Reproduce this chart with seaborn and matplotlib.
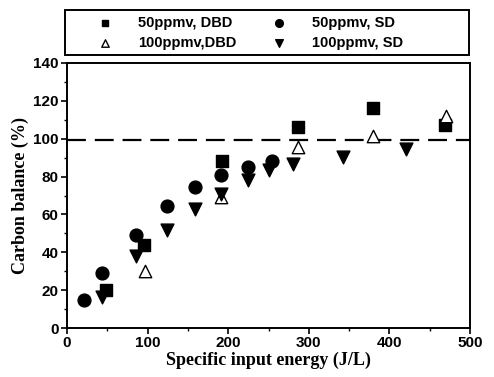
import numpy as np
import pandas as pd
import matplotlib
matplotlib.use("Agg")
import matplotlib.pyplot as plt
import seaborn as sns
from matplotlib.ticker import MultipleLocator
from matplotlib.patches import Rectangle

# --- data ---
sie_50_dbd = [48, 96, 192, 287, 380, 469]
cb_50_dbd = [20, 44, 88, 106, 116, 107]

sie_50_sd = [21, 44, 86, 124, 159, 191, 224, 254]
cb_50_sd = [15, 29, 49, 64.5, 74.5, 81, 85, 88]

sie_100_dbd = [97, 191, 286, 380, 470]
cb_100_dbd = [30, 69, 95.5, 101.5, 112]

sie_100_sd = [44, 86, 124, 159, 191, 224, 251, 281, 342, 421]
cb_100_sd = [16.5, 38, 52, 63, 71, 78, 83.5, 86.5, 90.5, 94.5]

labels = ["50ppmv, DBD", "50ppmv, SD", "100ppmv,DBD", "100ppmv, SD"]
ref_level = 99.5

sns.set_theme(style="ticks")
plt.rcParams['font.family'] = ['Liberation Sans', 'DejaVu Sans']
plt.rcParams.update({"text.color": "black", "axes.labelcolor": "black",
                     "xtick.color": "black", "ytick.color": "black"})

W, H = 494, 377
fig = plt.figure(figsize=(W / 100, H / 100), dpi=100)
ax = fig.add_axes([67 / W, 49 / H, 403 / W, 265 / H])

series = [
    (sie_50_dbd, cb_50_dbd, labels[0], "s", "black", 70),
    (sie_50_sd, cb_50_sd, labels[1], "o", "black", 85),
    (sie_100_dbd, cb_100_dbd, labels[2], "^", "white", 80),
    (sie_100_sd, cb_100_sd, labels[3], "v", "black", 85),
]
for x, y, lab, mk, fc, s in series:
    df = pd.DataFrame({"sie": x, "cb": y})
    sns.scatterplot(data=df, x="sie", y="cb", marker=mk, s=s, color=fc,
                    edgecolor="black", linewidth=1.0, label=lab, ax=ax, zorder=3)

# 100% reference line
ax.axhline(ref_level, color="black", lw=1.6, ls=(0, (8.5, 4)), zorder=2)

ax.set_xlim(0, 500)
ax.set_ylim(0, 140)
ax.xaxis.set_major_locator(MultipleLocator(100))
ax.xaxis.set_minor_locator(MultipleLocator(50))
ax.yaxis.set_major_locator(MultipleLocator(20))
ax.yaxis.set_minor_locator(MultipleLocator(10))
ax.tick_params(which="major", direction="out", length=4, width=1.2, labelsize=11, pad=2)
ax.tick_params(which="minor", direction="out", length=2.5, width=1.0)
for lbl in ax.get_xticklabels() + ax.get_yticklabels():
    lbl.set_fontweight("bold")
for sp in ax.spines.values():
    sp.set_linewidth(1.4)
    sp.set_color("black")

ax.set_xlabel("Specific input energy (J/L)", family=["Liberation Serif"],
              fontweight="bold", fontsize=13, labelpad=1)
ax.set_ylabel("Carbon balance (%)", family=["Liberation Serif"],
              fontweight="bold", fontsize=13, labelpad=3)

# legend rows: (50 DBD, 50 SD) / (100 DBD, 100 SD), box drawn separately
handles, labs = ax.get_legend_handles_labels()
order = [0, 2, 1, 3]
leg = fig.legend([handles[i] for i in order], [labs[i] for i in order],
                 ncol=2, loc="center left", bbox_to_anchor=(90 / W, 1 - 33 / H),
                 frameon=False, prop={"weight": "bold", "size": 10.5},
                 handlelength=2.0, handletextpad=1.3, columnspacing=1.9,
                 labelspacing=0.42, borderpad=0, borderaxespad=0, markerscale=0.6)
if ax.get_legend():
    ax.get_legend().remove()
fig.patches.append(Rectangle((65 / W, 1 - 55 / H), 404 / W, 45 / H,
                             transform=fig.transFigure, fill=False,
                             edgecolor="black", lw=1.4))

fig.savefig("out.png", dpi=100)
